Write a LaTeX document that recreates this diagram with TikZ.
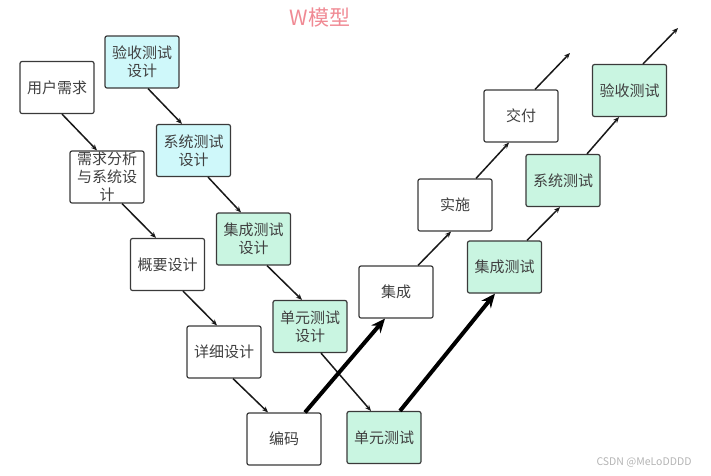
\documentclass[tikz,border=0pt]{standalone}
\usepackage{fontspec}
\setmainfont{Noto Sans CJK SC}
\usetikzlibrary{arrows.meta}
\definecolor{cyanfill}{HTML}{CFF8FA}
\definecolor{greenfill}{HTML}{C9F5E1}
\definecolor{boxline}{HTML}{3A3A3A}
\definecolor{txt}{HTML}{404040}
\definecolor{titlecol}{HTML}{F08A94}
\definecolor{wmcol}{HTML}{B4B4B4}
\tikzset{
  box/.style={draw=boxline, line width=1.2pt, rounded corners=2pt, minimum width=74pt, minimum height=52pt, inner sep=1pt, align=center, font=\fontsize{15}{18}\selectfont, text=txt, fill=white},
  cbox/.style={box, fill=cyanfill},
  gbox/.style={box, fill=greenfill},
  thin/.style={draw=black!90, line width=1.5pt, -{Stealth[length=6pt,width=5pt]}},
  thick/.style={draw=black, line width=4pt, -{Stealth[length=14pt,width=12pt]}}
}
\begin{document}
\begin{tikzpicture}[x=1pt,y=-1pt]
\useasboundingbox (0,0) rectangle (711,475);
\node[text=titlecol, font=\fontsize{21}{23}\selectfont] (title) at (320,18) {W模型};
\node[box]  (yhxq) at (57,87.5) {用户需求};
\node[cbox] (ysjsj) at (142,62) {验收测试\\设计};
\node[box]  (xqfx) at (107,177) {需求分析\\与系统设\\计};
\node[cbox] (xtsj) at (193.5,150.5) {系统测试\\设计};
\node[gbox] (jcsj) at (253.5,239) {集成测试\\设计};
\node[box]  (gysj) at (167.5,264.5) {概要设计};
\node[gbox] (dysj) at (310,326.5) {单元测试\\设计};
\node[box]  (xxsj) at (224,352) {详细设计};
\node[box]  (bm) at (284,439) {编码};
\node[gbox] (dycs) at (384,437.5) {单元测试};
\node[box]  (jc) at (396,292) {集成};
\node[gbox] (jccs) at (504.5,267) {集成测试};
\node[box]  (ss) at (455,205) {实施};
\node[box]  (jf) at (521,116) {交付};
\node[gbox] (xtcs) at (563,180.5) {系统测试};
\node[gbox] (yscs) at (629.5,90.5) {验收测试};
\coordinate (endjf) at (570,53);
\coordinate (endys) at (678,28);
\node[text=wmcol, font=\fontsize{10.5}{12}\selectfont, anchor=east] (wm) at (695,462) {CSDN @MeLoDDDD};

\draw[thin] ([xshift=5pt]yhxq.south) -- ([xshift=-10pt]xqfx.north);
\draw[thin] ([xshift=6pt]ysjsj.south) -- ([xshift=-11.5pt]xtsj.north);
\draw[thin] ([xshift=15pt]xqfx.south) -- ([xshift=-11.5pt]gysj.north);
\draw[thin] ([xshift=14.5pt]xtsj.south) -- ([xshift=-12.5pt]jcsj.north);
\draw[thin] ([xshift=15.5pt]gysj.south) -- ([xshift=-7pt]xxsj.north);
\draw[thin] ([xshift=13.5pt]jcsj.south) -- ([xshift=-8pt]dysj.north);
\draw[thin] ([xshift=9pt]xxsj.south) -- ([xshift=-16pt]bm.north);
\draw[thin] ([xshift=11pt]dysj.south) -- ([xshift=-13pt]dycs.north);
\draw[thin] ([xshift=22pt]jc.north) -- ([xshift=-4pt]ss.south);
\draw[thin] ([xshift=21pt]ss.north) -- ([xshift=-12pt]jf.south);
\draw[thin] ([xshift=14pt]jf.north) -- (endjf);
\draw[thin] ([xshift=22.5pt]jccs.north) -- ([xshift=-3pt]xtcs.south);
\draw[thin] ([xshift=24pt]xtcs.north) -- ([xshift=-10.5pt]yscs.south);
\draw[thin] ([xshift=13.5pt]yscs.north) -- (endys);
\draw[thick] ([xshift=21pt]bm.north) -- ([xshift=-11pt]jc.south);
\draw[thick] ([xshift=16pt]dycs.north) -- ([xshift=-9.5pt]jccs.south);
\end{tikzpicture}
\end{document}
